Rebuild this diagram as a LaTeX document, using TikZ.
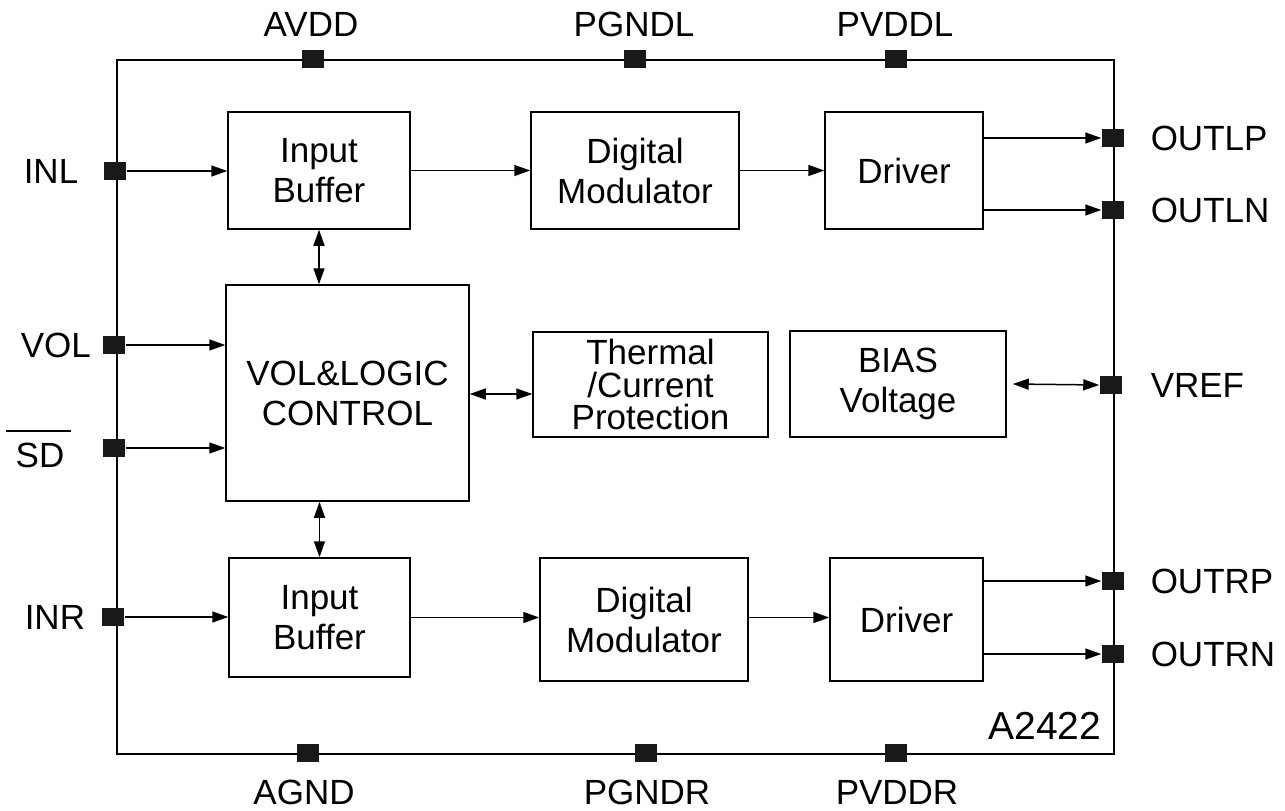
\documentclass[tikz,border=0pt]{standalone}
\usepackage{fontspec}
\setmainfont{Liberation Sans}
\usetikzlibrary{arrows.meta,calc}
\begin{document}
\begin{tikzpicture}[x=1pt,y=-1pt,
  font=\fontsize{35}{40}\selectfont,
  line width=1.5pt,
  blk/.style={draw, line width=1.5pt, align=center, inner sep=0pt},
  chippin/.style={fill=black!90, draw=none, minimum width=22pt, minimum height=18pt, inner sep=0pt},
  lbl/.style={inner sep=0pt},
  arr/.style={line width=1.5pt, -{Triangle[length=16pt,width=11pt]}},
  biarr/.style={line width=1.5pt, {Triangle[length=16pt,width=11pt]}-{Triangle[length=16pt,width=11pt]}}
]
\useasboundingbox (0,0) rectangle (1285,811);

% chip outline
\node[draw, line width=1.5pt, minimum width=997pt, minimum height=694pt, anchor=north west, inner sep=0pt] (chip) at (116,59) {};

% blocks
\node[blk, minimum width=182pt, minimum height=117pt] (IBt) at (319,170.5) {Input\\Buffer};
\node[blk, minimum width=208pt, minimum height=117pt] (DMt) at (635,170.5) {Digital\\Modulator};
\node[blk, minimum width=158pt, minimum height=117pt] (DRt) at (904,170.5) {Driver};
\node[blk, minimum width=243pt, minimum height=216pt] (VL) at (347.5,393) {VOL\&LOGIC\\CONTROL};
\node[blk, minimum width=235pt, minimum height=105pt, font=\fontsize{35}{32.5}\selectfont] (TH) at (650.5,384.5) {Thermal\\/Current\\Protection};
\node[blk, minimum width=216pt, minimum height=106pt] (BIAS) at (898,384) {BIAS\\Voltage};
\node[blk, minimum width=181pt, minimum height=119pt] (IBb) at (319.5,617.5) {Input\\Buffer};
\node[blk, minimum width=208pt, minimum height=123pt] (DMb) at (644,619.5) {Digital\\Modulator};
\node[blk, minimum width=153pt, minimum height=123pt] (DRb) at (906.5,619.5) {Driver};

% pins
\node[chippin] (pAVDD) at (313,59) {};
\node[chippin] (pPGNDL) at (635,59) {};
\node[chippin] (pPVDDL) at (896,59) {};
\node[chippin] (pAGND) at (308,753) {};
\node[chippin] (pPGNDR) at (646,753) {};
\node[chippin] (pPVDDR) at (896,753) {};
\node[chippin] (pINL) at (115,171) {};
\node[chippin] (pVOL) at (114,345) {};
\node[chippin] (pSD) at (114,448) {};
\node[chippin] (pINR) at (113,617) {};
\node[chippin] (pOUTLP) at (1113,138) {};
\node[chippin] (pOUTLN) at (1113,210) {};
\node[chippin] (pVREF) at (1111,385) {};
\node[chippin] (pOUTRP) at (1113,581) {};
\node[chippin] (pOUTRN) at (1113,654) {};

% pin labels
\node[lbl] (lAVDD) at (311,24) {AVDD};
\node[lbl] (lPGNDL) at (634,24) {PGNDL};
\node[lbl] (lPVDDL) at (895,24) {PVDDL};
\node[lbl] (lAGND) at (304,792) {AGND};
\node[lbl] (lPGNDR) at (647,792) {PGNDR};
\node[lbl] (lPVDDR) at (897,792) {PVDDR};
\node[lbl, anchor=west] (lINL) at (23,171) {INL};
\node[lbl, anchor=west] (lVOL) at (20,345) {VOL};
\node[lbl, anchor=west] (lSD) at (15,455) {SD};
\draw[line width=1.5pt] ($(lSD.north west)+(-9,-11)$) coordinate (sdo1) -- ($(lSD.north east)+(6,-11)$) coordinate (sdo2);
\node[lbl, anchor=west] (lINR) at (24,617) {INR};
\node[lbl, anchor=west] (lOUTLP) at (1150,138) {OUTLP};
\node[lbl, anchor=west] (lOUTLN) at (1150,210) {OUTLN};
\node[lbl, anchor=west] (lVREF) at (1150,385) {VREF};
\node[lbl, anchor=west] (lOUTRP) at (1150,581) {OUTRP};
\node[lbl, anchor=west] (lOUTRN) at (1150,654) {OUTRN};
\node[lbl, anchor=east, font=\fontsize{39}{44}\selectfont] (part) at (1102,726) {A2422};

% top channel
\draw[arr] (pINL.east) -- (pINL -| IBt.west);
\draw[arr] (IBt.east) -- (DMt.west);
\draw[arr] (DMt.east) -- (DRt.west);
\draw[arr] (DRt.east |- pOUTLP) -- (pOUTLP.west);
\draw[arr] (DRt.east |- pOUTLN) -- (pOUTLN.west);
\draw[biarr] (IBt.south) -- (IBt.south |- VL.north);

% control
\draw[arr] (pVOL.east) -- (pVOL -| VL.west);
\draw[arr] (pSD.east) -- (pSD -| VL.west);
\path (TH.west) ++(0,9.5) coordinate (thin);
\draw[biarr] (VL.east |- thin) -- (thin);
\draw[biarr] ([xshift=6pt]BIAS.east) -- (pVREF.west);

% bottom channel
\draw[biarr] (VL.south -| IBb.north) -- (IBb.north);
\draw[arr] (pINR.east) -- (pINR -| IBb.west);
\draw[arr] (IBb.east) -- (IBb.east -| DMb.west);
\draw[arr] (DMb.east |- IBb.east) -- (IBb.east -| DRb.west);
\draw[arr] (DRb.east |- pOUTRP) -- (pOUTRP.west);
\draw[arr] (DRb.east |- pOUTRN) -- (pOUTRN.west);
\end{tikzpicture}
\end{document}
